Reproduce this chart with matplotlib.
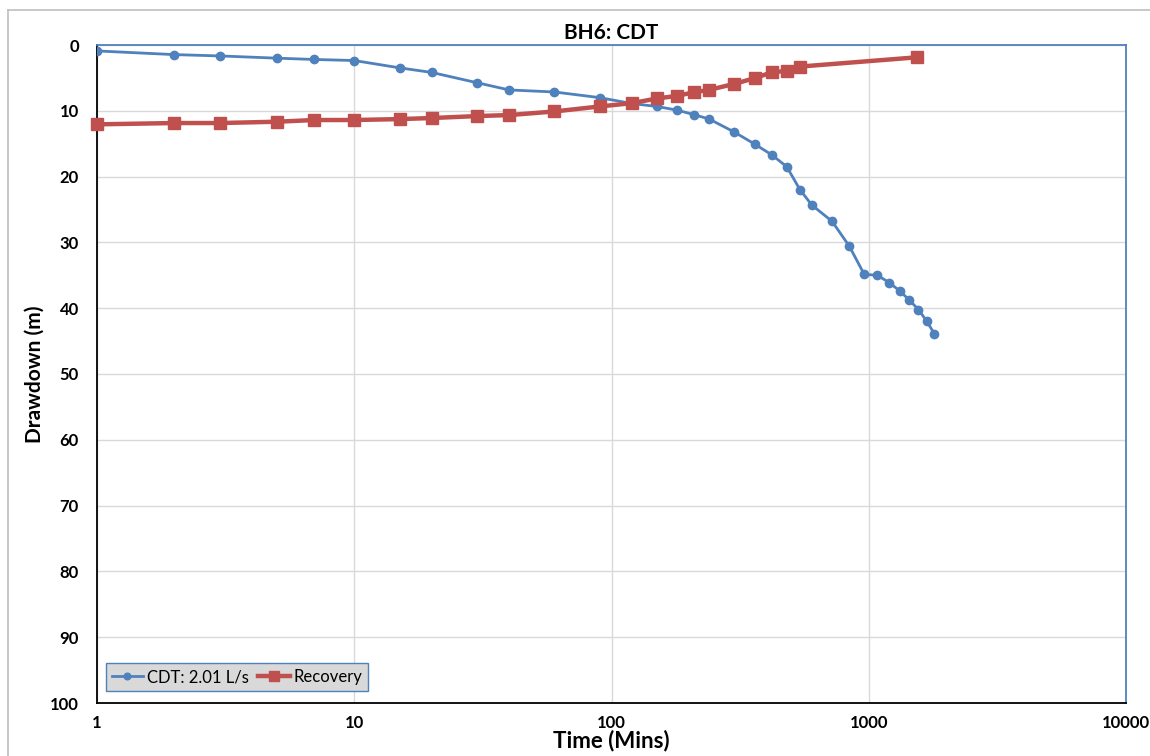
import matplotlib.pyplot as plt
from matplotlib.lines import Line2D
from matplotlib.ticker import FixedLocator, FixedFormatter, NullLocator

plt.rcParams['font.family'] = ['Lato', 'DejaVu Sans']

# CDT pumping test (time in minutes, drawdown in m)
cdt_time = [1, 2, 3, 5, 7, 10, 15, 20, 30, 40, 60, 90, 120, 150, 180, 210, 240,
            300, 360, 420, 480, 540, 600, 720, 840, 960, 1080, 1200, 1320,
            1440, 1560, 1680, 1800]
cdt_dd = [0.9, 1.46, 1.66, 2.0, 2.2, 2.36, 3.47, 4.17, 5.73, 6.83, 7.14, 8.0,
          8.9, 9.34, 9.9, 10.6, 11.26, 13.23, 15.05, 16.7, 18.5, 21.97, 24.3,
          26.8, 30.56, 34.85, 35.0, 36.1, 37.37, 38.8, 40.2, 41.97, 43.9]

# recovery
rec_time = [1, 2, 3, 5, 7, 10, 15, 20, 30, 40, 60, 90, 120, 150, 180, 210, 240,
            300, 360, 420, 480, 540, 1540]
rec_dd = [12.06, 11.86, 11.86, 11.66, 11.4, 11.4, 11.26, 11.1, 10.8, 10.65,
          10.1, 9.34, 8.84, 8.13, 7.73, 7.17, 6.82, 5.91, 5.05, 4.14, 3.94,
          3.28, 1.87]

x_ticks = [1, 10, 100, 1000, 10000]
x_labels = ["1", "10", "100", "1000", "10000"]

blue = "#4F81BD"
red = "#C0504D"

fig = plt.figure(figsize=(11.5, 7.56), dpi=100)
ax = fig.add_axes([97 / 1150, 53 / 756, 1029 / 1150, 658 / 756])

# chart area border (only top & left visible in the crop)
fig.add_artist(Line2D([8 / 1150, 1.0], [1 - 10 / 756, 1 - 10 / 756],
                      transform=fig.transFigure, color="#BFBFBF", lw=1.2))
fig.add_artist(Line2D([8 / 1150, 8 / 1150], [0.0, 1 - 10 / 756],
                      transform=fig.transFigure, color="#BFBFBF", lw=1.2))

ax.plot(cdt_time, cdt_dd, color=blue, lw=2, marker="o", ms=6,
        label="CDT: 2.01 L/s", zorder=3)
ax.plot(rec_time, rec_dd, color=red, lw=3.2, marker="s", ms=8.5,
        label="Recovery", zorder=4, clip_on=False)

ax.set_xscale("log")
ax.set_xlim(1, 10000)
ax.set_ylim(100, 0)
ax.xaxis.set_major_locator(FixedLocator(x_ticks))
ax.xaxis.set_major_formatter(FixedFormatter(x_labels))
ax.xaxis.set_minor_locator(NullLocator())
ax.set_yticks(range(0, 101, 10))

ax.grid(True, color="#D9D9D9", lw=1)
ax.set_axisbelow(True)
ax.tick_params(length=0, labelsize=12)
ax.tick_params(axis="x", pad=9)
ax.tick_params(axis="y", pad=13)
for lbl in ax.get_xticklabels() + ax.get_yticklabels():
    lbl.set_fontweight("bold")

for side in ["top", "right"]:
    ax.spines[side].set_color(blue)
    ax.spines[side].set_linewidth(1.3)
for side in ["left", "bottom"]:
    ax.spines[side].set_color("black")
    ax.spines[side].set_linewidth(1.3)

ax.set_title("BH6: CDT", fontsize=15, fontweight="bold", pad=4)
ax.set_xlabel("Time (Mins)", fontsize=16, fontweight="bold", labelpad=-1)
ax.set_ylabel("Drawdown (m)", fontsize=15, fontweight="bold", labelpad=4)

leg = ax.legend(loc="lower left", bbox_to_anchor=(0.0085, 0.018), ncol=2,
                fontsize=12, frameon=True, fancybox=False, handlelength=1.9,
                columnspacing=0.6, handletextpad=0.2, borderpad=0.35,
                borderaxespad=0, markerscale=0.8)
leg.get_frame().set_facecolor("#D9D9D9")
leg.get_frame().set_edgecolor(blue)
leg.get_frame().set_alpha(1)

fig.savefig("out.png", dpi=100)
